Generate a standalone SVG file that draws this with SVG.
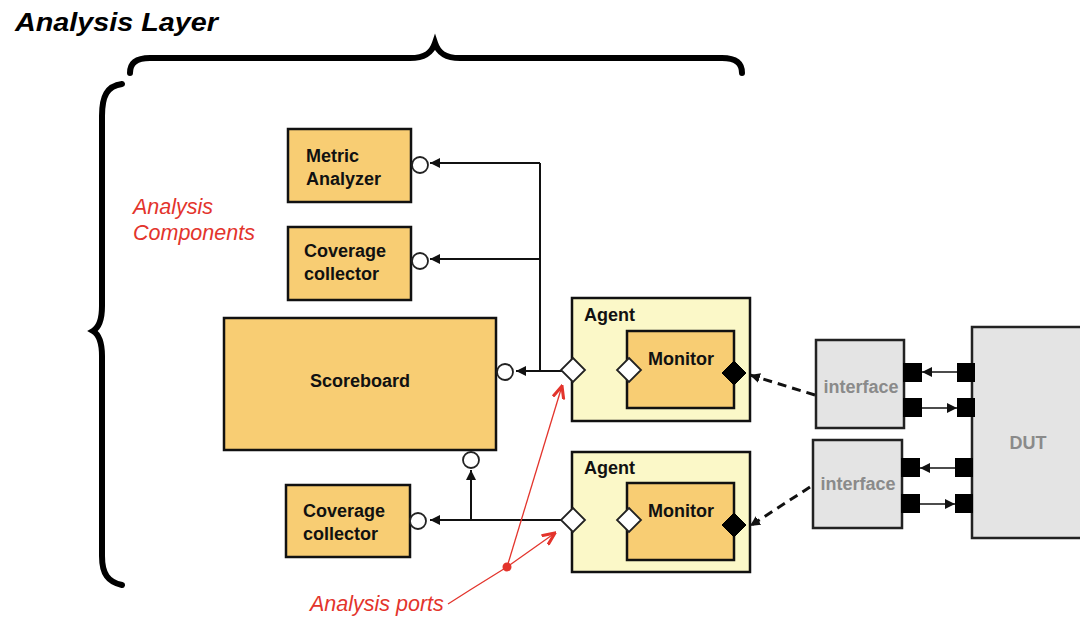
<svg xmlns="http://www.w3.org/2000/svg" width="1080" height="617" viewBox="0 0 1080 617">
<defs>
<style>
.comp{fill:#F8CD73;stroke:#111;stroke-width:2.5}
.agent{fill:#FBF8C8;stroke:#111;stroke-width:2.5}
.gray{fill:#E4E4E4;stroke:#222;stroke-width:2.5}
.lbl{font-family:"Liberation Sans",Arial,sans-serif;font-weight:bold;font-size:18px;fill:#111}
.glbl{font-family:"Liberation Sans",Arial,sans-serif;font-weight:bold;font-size:18px;fill:#8a8a8a}
.red{font-family:"Liberation Sans",Arial,sans-serif;font-style:italic;font-size:21.5px;fill:#E3342C}
.port{fill:#fff;stroke:#222;stroke-width:1.8}
.exp{fill:#fff;stroke:#222;stroke-width:1.8}
.imp{fill:#000;stroke:#000;stroke-width:1}
.pin{fill:#000}
.line{stroke:#111;stroke-width:2;fill:none}
.thin{stroke:#111;stroke-width:1.5;fill:none}
.dash{stroke:#111;stroke-width:3;fill:none;stroke-dasharray:9 6}
.brace{stroke:#000;stroke-width:6;fill:none;stroke-linecap:round}
.rline{stroke:#E3342C;stroke-width:1.3;fill:none}
</style>
<marker id="ah" viewBox="0 0 10 10" refX="10" refY="5" markerWidth="10" markerHeight="10" markerUnits="userSpaceOnUse" orient="auto">
<path d="M0,0 L10,5 L0,10 z" fill="#111"/>
</marker>
<marker id="rah" viewBox="0 0 10 10" refX="9" refY="5" markerWidth="14" markerHeight="14" markerUnits="userSpaceOnUse" orient="auto">
<path d="M0,1 L9,5 L0,9" fill="none" stroke="#E3342C" stroke-width="2.2"/>
</marker>
</defs>
<rect width="1080" height="617" fill="#fff"/>

<g id="title">
<text x="15" y="31" font-family="'Liberation Sans',Arial,sans-serif" font-weight="bold" font-style="italic" font-size="26" fill="#000" textLength="203" lengthAdjust="spacingAndGlyphs">Analysis Layer</text>
</g>

<g id="braces">
<path class="brace" d="M130,73 C130,63 136,58 150,58 L410,58 C426,58 432,52 435,43 C438,52 444,58 460,58 L722,58 C736,58 742,63 742,73"/>
<path class="brace" d="M122,84 C107,86 102,96 102,116 L102,306 C102,320 98,328 93,331 C98,334 102,342 102,356 L102,556 C102,574 108,582 122,585"/>
</g>

<g id="labels-red">
<text class="red" x="133" y="214">Analysis</text>
<text class="red" x="133" y="240">Components</text>
<text class="red" x="310" y="611" font-size="22">Analysis ports</text>
</g>

<g id="connectors">
<line class="line" x1="540" y1="163" x2="540" y2="371"/>
<line class="line" x1="540" y1="163" x2="430" y2="163" marker-end="url(#ah)"/>
<line class="line" x1="540" y1="259" x2="430" y2="259" marker-end="url(#ah)"/>
<line class="line" x1="562" y1="371" x2="516" y2="371" marker-end="url(#ah)"/>
<line class="line" x1="562" y1="520" x2="430" y2="520" marker-end="url(#ah)"/>
<line class="line" x1="471" y1="520" x2="471" y2="470" marker-end="url(#ah)"/>
<line class="line" x1="586" y1="370" x2="617" y2="370"/>
<line class="line" x1="586" y1="520" x2="617" y2="520"/>
<line class="dash" x1="815" y1="395" x2="750" y2="375" marker-end="url(#ah)"/>
<line class="dash" x1="810" y1="487" x2="750" y2="526" marker-end="url(#ah)"/>
<line class="thin" x1="957" y1="372" x2="922" y2="372" marker-end="url(#ah)"/>
<line class="thin" x1="922" y1="408" x2="957" y2="408" marker-end="url(#ah)"/>
<line class="thin" x1="955" y1="468" x2="920" y2="468" marker-end="url(#ah)"/>
<line class="thin" x1="920" y1="504" x2="955" y2="504" marker-end="url(#ah)"/>
<polyline class="rline" points="448,604 470,590 507,567"/>
<line class="rline" x1="507" y1="567" x2="562" y2="386" marker-end="url(#rah)"/>
<line class="rline" x1="507" y1="567" x2="555" y2="533" marker-end="url(#rah)"/>
<circle cx="507" cy="567" r="4.5" fill="#E3342C"/>
</g>

<g id="metric-analyzer">
<rect class="comp" x="288" y="129" width="123" height="73"/>
<text class="lbl" x="306" y="162">Metric</text>
<text class="lbl" x="306" y="185">Analyzer</text>
<circle class="port" cx="420" cy="165" r="8"/>
</g>

<g id="coverage-collector-1">
<rect class="comp" x="288" y="227" width="123" height="73"/>
<text class="lbl" x="304" y="257">Coverage</text>
<text class="lbl" x="304" y="280">collector</text>
<circle class="port" cx="420" cy="261" r="8"/>
</g>

<g id="scoreboard">
<rect class="comp" x="224" y="318" width="272" height="132"/>
<text class="lbl" x="360" y="387" text-anchor="middle">Scoreboard</text>
<circle class="port" cx="505" cy="372" r="8"/>
<circle class="port" cx="471" cy="460" r="8"/>
</g>

<g id="coverage-collector-2">
<rect class="comp" x="286" y="485" width="124" height="72"/>
<text class="lbl" x="303" y="517">Coverage</text>
<text class="lbl" x="303" y="540">collector</text>
<circle class="port" cx="418" cy="521" r="8"/>
</g>

<g id="agent-1">
<rect class="agent" x="572" y="298" width="178" height="123"/>
<text class="lbl" x="584" y="321">Agent</text>
<rect class="comp" x="627" y="331" width="107" height="77"/>
<text class="lbl" x="648" y="365">Monitor</text>
<path class="exp" d="M573,358 L585,370 L573,382 L561,370 z"/>
<path class="exp" d="M629,358 L641,370 L629,382 L617,370 z"/>
<path class="imp" d="M734,361 L746,373 L734,385 L722,373 z"/>
</g>

<g id="agent-2">
<rect class="agent" x="572" y="452" width="178" height="120"/>
<text class="lbl" x="584" y="474">Agent</text>
<rect class="comp" x="627" y="483" width="107" height="77"/>
<text class="lbl" x="648" y="517">Monitor</text>
<path class="exp" d="M573,508 L585,520 L573,532 L561,520 z"/>
<path class="exp" d="M629,508 L641,520 L629,532 L617,520 z"/>
<path class="imp" d="M734,513 L746,525 L734,537 L722,525 z"/>
</g>

<g id="interface-1">
<rect class="gray" x="816" y="340" width="88" height="88"/>
<text class="glbl" x="861" y="393" text-anchor="middle">interface</text>
<rect class="pin" x="903" y="363" width="19" height="19"/>
<rect class="pin" x="903" y="398" width="19" height="19"/>
</g>

<g id="interface-2">
<rect class="gray" x="813" y="440" width="89" height="88"/>
<text class="glbl" x="858" y="490" text-anchor="middle">interface</text>
<rect class="pin" x="901" y="458" width="19" height="19"/>
<rect class="pin" x="901" y="494" width="19" height="19"/>
</g>

<g id="dut">
<rect class="gray" x="972" y="327" width="120" height="211"/>
<text class="glbl" x="1028" y="449" text-anchor="middle">DUT</text>
<rect class="pin" x="957" y="363" width="18" height="19"/>
<rect class="pin" x="957" y="398" width="18" height="19"/>
<rect class="pin" x="955" y="458" width="18" height="19"/>
<rect class="pin" x="955" y="494" width="18" height="19"/>
</g>
</svg>
